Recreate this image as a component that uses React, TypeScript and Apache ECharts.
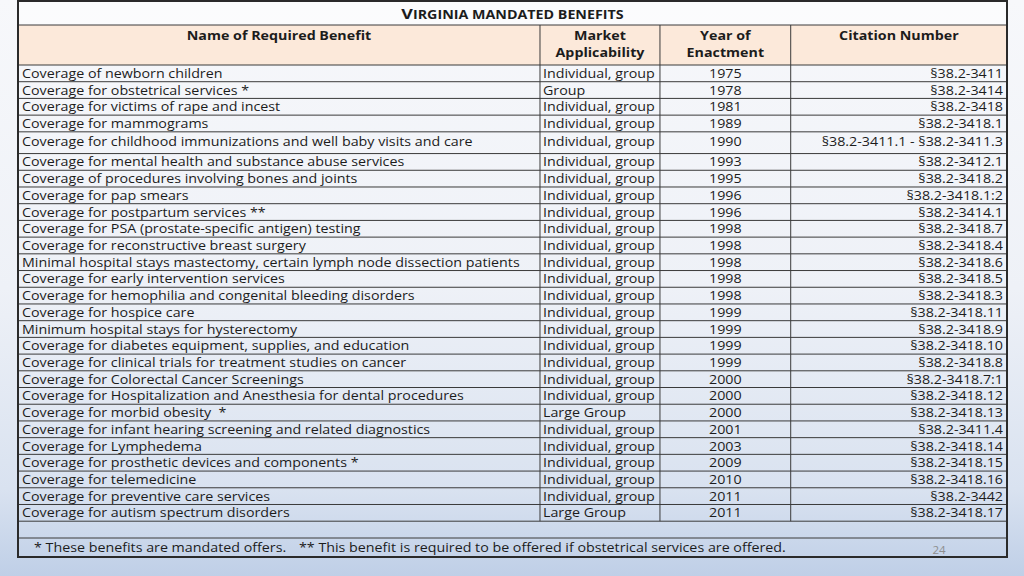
import React, { useEffect, useRef } from "react";
import * as echarts from "echarts";

const title = "VIRGINIA MANDATED BENEFITS";
const headers = ["Name of Required Benefit", "Market\nApplicability", "Year of\nEnactment", "Citation Number"];

const benefits = [
  "Coverage of newborn children",
  "Coverage for obstetrical services *",
  "Coverage for victims of rape and incest",
  "Coverage for mammograms",
  "Coverage for childhood immunizations and well baby visits and care",
  "Coverage for mental health and substance abuse services",
  "Coverage of procedures involving bones and joints",
  "Coverage for pap smears",
  "Coverage for postpartum services **",
  "Coverage for PSA (prostate-specific antigen) testing",
  "Coverage for reconstructive breast surgery",
  "Minimal hospital stays mastectomy, certain lymph node dissection patients",
  "Coverage for early intervention services",
  "Coverage for hemophilia and congenital bleeding disorders",
  "Coverage for hospice care",
  "Minimum hospital stays for hysterectomy",
  "Coverage for diabetes equipment, supplies, and education",
  "Coverage for clinical trials for treatment studies on cancer",
  "Coverage for Colorectal Cancer Screenings",
  "Coverage for Hospitalization and Anesthesia for dental procedures",
  "Coverage for morbid obesity  *",
  "Coverage for infant hearing screening and related diagnostics",
  "Coverage for Lymphedema",
  "Coverage for prosthetic devices and components *",
  "Coverage for telemedicine",
  "Coverage for preventive care services",
  "Coverage for autism spectrum disorders",
];

const markets = [
  "Individual, group", "Group", "Individual, group", "Individual, group", "Individual, group",
  "Individual, group", "Individual, group", "Individual, group", "Individual, group", "Individual, group",
  "Individual, group", "Individual, group", "Individual, group", "Individual, group", "Individual, group",
  "Individual, group", "Individual, group", "Individual, group", "Individual, group", "Individual, group",
  "Large Group", "Individual, group", "Individual, group", "Individual, group", "Individual, group",
  "Individual, group", "Large Group",
];

const years = [
  "1975", "1978", "1981", "1989", "1990", "1993", "1995", "1996", "1996", "1998",
  "1998", "1998", "1998", "1998", "1999", "1999", "1999", "1999", "2000", "2000",
  "2000", "2001", "2003", "2009", "2010", "2011", "2011",
];

const citations = [
  "§38.2-3411", "§38.2-3414", "§38.2-3418", "§38.2-3418.1", "§38.2-3411.1 - §38.2-3411.3",
  "§38.2-3412.1", "§38.2-3418.2", "§38.2-3418.1:2", "§38.2-3414.1", "§38.2-3418.7",
  "§38.2-3418.4", "§38.2-3418.6", "§38.2-3418.5", "§38.2-3418.3", "§38.2-3418.11",
  "§38.2-3418.9", "§38.2-3418.10", "§38.2-3418.8", "§38.2-3418.7:1", "§38.2-3418.12",
  "§38.2-3418.13", "§38.2-3411.4", "§38.2-3418.14", "§38.2-3418.15", "§38.2-3418.16",
  "§38.2-3442", "§38.2-3418.17",
];

const footnote1 = "* These benefits are mandated offers.";
const footnote2 = "** This benefit is required to be offered if obstetrical services are offered.";
const pageNumber = "24";

// layout
const FONT = "'Open Sans', 'Noto Sans', sans-serif";
const FS = 12;
const SX = 1.19;
const TEXT = "#1c1c1c";
const LINE = "#3a3a3a";
const L = 18, R = 1007;
const TITLE_TOP = 1, HEADER_TOP = 25, BODY_TOP = 65, BODY_BOTTOM = 521.2, FOOTER_TOP = 538, BOTTOM = 557;
const COLS = [0, 0.5278, 0.6491, 0.7813, 1];
const TALL_ROW = 4;
const TALL = 1.3;
const TOTAL = benefits.length - 1 + TALL;
const rowTop = (i: number) => i + (i > TALL_ROW ? TALL - 1 : 0);
const rowH = (i: number) => (i === TALL_ROW ? TALL : 1);
const colX = (f: number) => L + (R - L) * f;

export default function App() {
  const ref = useRef<HTMLDivElement>(null);
  useEffect(() => {
    const chart = echarts.init(ref.current!, null, { renderer: "svg" });

    const hText = (text: string, x: number, y: number) => ({
      type: "text",
      x, y, scaleX: SX,
      silent: true,
      style: {
        text, x: 0, y: 0, align: "center", verticalAlign: "top",
        font: `bold ${FS}px ${FONT}`, fill: TEXT, lineHeight: 17,
      },
    });
    const hLine = (y: number, x1 = L, x2 = R, w = 1) => ({
      type: "line", silent: true,
      shape: { x1, y1: y, x2, y2: y },
      style: { stroke: LINE, lineWidth: w },
    });
    const vLine = (x: number, y1: number, y2: number) => ({
      type: "line", silent: true,
      shape: { x1: x, y1, x2: x, y2 },
      style: { stroke: LINE, lineWidth: 1 },
    });

    const graphics: any[] = [
      { type: "rect", silent: true, shape: { x: L, y: TITLE_TOP, width: R - L, height: HEADER_TOP - TITLE_TOP }, style: { fill: "rgba(255,255,255,0.55)" } },
      { type: "rect", silent: true, shape: { x: L, y: HEADER_TOP, width: R - L, height: BODY_TOP - HEADER_TOP }, style: { fill: "#fce9da" } },
      {
        type: "text", silent: true, x: (L + R) / 2, y: 13, scaleX: SX,
        style: {
          text: `{a|${title[0]}}{b|${title.slice(1)}}`,
          align: "center", verticalAlign: "middle",
          rich: {
            a: { font: `bold 15px ${FONT}`, fill: TEXT, verticalAlign: "bottom" },
            b: { font: `bold 12px ${FONT}`, fill: TEXT, verticalAlign: "bottom" },
          },
        },
      },
      hText(headers[0], (colX(COLS[0]) + colX(COLS[1])) / 2, 26.5),
      hText(headers[1], (colX(COLS[1]) + colX(COLS[2])) / 2, 26.5),
      hText(headers[2], (colX(COLS[2]) + colX(COLS[3])) / 2, 26.5),
      hText(headers[3], (colX(COLS[3]) + colX(COLS[4])) / 2, 26.5),
      hLine(HEADER_TOP),
      hLine(BODY_TOP),
      vLine(colX(COLS[1]), HEADER_TOP, BODY_TOP),
      vLine(colX(COLS[2]), HEADER_TOP, BODY_TOP),
      vLine(colX(COLS[3]), HEADER_TOP, BODY_TOP),
      hLine(FOOTER_TOP),
      {
        type: "text", silent: true, x: 34, y: 547, scaleX: SX,
        style: { text: footnote1, verticalAlign: "middle", font: `${FS}px ${FONT}`, fill: TEXT },
      },
      {
        type: "text", silent: true, x: 299, y: 547, scaleX: SX,
        style: { text: footnote2, verticalAlign: "middle", font: `${FS}px ${FONT}`, fill: TEXT },
      },
      {
        type: "text", silent: true, x: 939, y: 549,
        style: { text: pageNumber, align: "center", verticalAlign: "middle", font: `11.5px ${FONT}`, fill: "#8e8e8e" },
      },
      {
        type: "rect", silent: true, z: 100,
        shape: { x: L, y: TITLE_TOP, width: R - L, height: BOTTOM - TITLE_TOP },
        style: { fill: "none", stroke: "#2a2a2a", lineWidth: 2 },
      },
    ];

    const data = benefits.map((_, i) => [i]);

    chart.setOption({
      animation: false,
      backgroundColor: new echarts.graphic.LinearGradient(0, 0, 0, 1, [
        { offset: 0, color: "#f7f8fb" },
        { offset: 0.5, color: "#eef1f7" },
        { offset: 0.85, color: "#d9e2f0" },
        { offset: 1, color: "#bfcfe7" },
      ]),
      grid: { left: L, right: 1024 - R, top: BODY_TOP, bottom: 576 - BODY_BOTTOM },
      xAxis: { type: "value", min: 0, max: 1, show: false },
      yAxis: { type: "value", min: 0, max: TOTAL, inverse: true, show: false },
      graphic: graphics,
      series: [
        {
          type: "custom",
          silent: true,
          data,
          renderItem: (params: any, api: any) => {
            const i = api.value(0);
            const t = rowTop(i);
            const h = rowH(i);
            const [x0, y0] = api.coord([0, t]);
            const [x1, y1] = api.coord([1, t + h]);
            const ym = i === TALL_ROW ? y0 + 9.5 : (y0 + y1) / 2;
            const cx = COLS.map((f) => api.coord([f, t])[0]);
            const txt = (text: string, x: number, align: string) => ({
              type: "text",
              x, y: ym, scaleX: SX,
              style: { text, x: 0, y: 0, align, verticalAlign: "middle", font: `${FS}px ${FONT}`, fill: TEXT },
            });
            return {
              type: "group",
              children: [
                { type: "line", shape: { x1: x0, y1, x2: x1, y2: y1 }, style: { stroke: LINE, lineWidth: 1 } },
                { type: "line", shape: { x1: cx[1], y1: y0, x2: cx[1], y2: y1 }, style: { stroke: LINE, lineWidth: 1 } },
                { type: "line", shape: { x1: cx[2], y1: y0, x2: cx[2], y2: y1 }, style: { stroke: LINE, lineWidth: 1 } },
                { type: "line", shape: { x1: cx[3], y1: y0, x2: cx[3], y2: y1 }, style: { stroke: LINE, lineWidth: 1 } },
                txt(benefits[i], cx[0] + 4, "left"),
                txt(markets[i], cx[1] + 3, "left"),
                txt(years[i], (cx[2] + cx[3]) / 2, "center"),
                txt(citations[i], cx[4] - 4, "right"),
              ],
            };
          },
        },
      ],
    });
    return () => chart.dispose();
  }, []);
  return <div ref={ref} style={{ position: "fixed", left: 0, top: 0, width: 1024, height: 576 }} />;
}
